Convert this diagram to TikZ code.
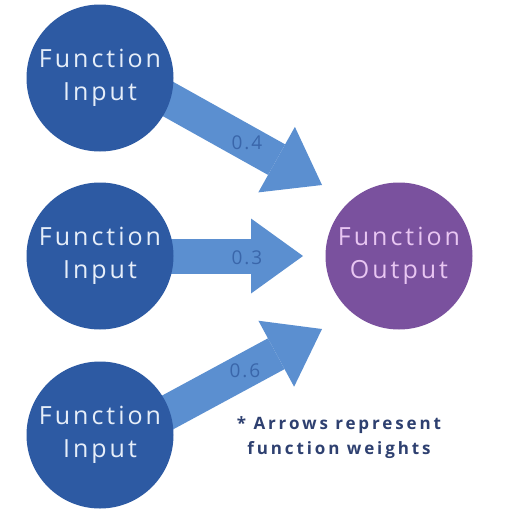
\documentclass[tikz,border=0pt]{standalone}
\usepackage{fontspec}
\setmainfont{Open Sans}
\newfontfamily\circfont[LetterSpace=12]{Open Sans}
\newfontfamily\notefont[LetterSpace=17]{Open Sans}
\newfontfamily\labfont[LetterSpace=10]{Open Sans}
\usetikzlibrary{arrows.meta,calc,backgrounds}
\definecolor{inblue}{HTML}{2D5AA3}
\definecolor{intext}{HTML}{E6EEF9}
\definecolor{arrowblue}{HTML}{5B8FD0}
\definecolor{labelblue}{HTML}{3A66AA}
\definecolor{outpurple}{HTML}{7A519E}
\definecolor{outtext}{HTML}{E8C6F2}
\definecolor{notecol}{HTML}{2E4070}
\begin{document}
\begin{tikzpicture}[x=1pt,y=-1pt,
  incircle/.style={circle,fill=inblue,minimum size=147pt,inner sep=0pt,text=intext,
    font=\circfont\fontsize{25}{33}\selectfont,align=center},
  outcircle/.style={incircle,fill=outpurple,text=outtext},
  weight/.style={line width=35pt,draw=arrowblue,
    -{Triangle[width=75pt,length=52pt,line width=0pt]}},
  wlabel/.style={text=labelblue,font=\labfont\fontsize{19}{19}\selectfont,inner sep=0pt},
  notestyle/.style={text=notecol,font=\notefont\bfseries\fontsize{17}{25}\selectfont,align=center}
]
\useasboundingbox (0,0) rectangle (508,517);
\node[incircle] (in1) at (100,78) {Function\\Input};
\node[incircle] (in2) at (100,256) {Function\\Input};
\node[incircle] (in3) at (100,435) {Function\\Input};
\node[outcircle] (out) at (399,256) {Function\\Output};
\coordinate (t1) at (322,185);
\coordinate (t2) at (303,256);
\coordinate (t3) at (322,329);
\begin{pgfonlayer}{background}
\fill[white] (0,0) rectangle (508,517);
\draw[weight] ($(in1.center)+(0,-17)$) -- (t1) node[wlabel,pos=0.662] {0.4};
\draw[weight] (in2.center) -- (t2) node[wlabel,pos=0.724,yshift=-2pt] {0.3};
\draw[weight] ($(in3.center)+(0,14)$) -- (t3) node[wlabel,pos=0.653] {0.6};
\end{pgfonlayer}
\node[notestyle] (note) at (339,438) {* Arrows represent\\function weights};
\end{tikzpicture}
\end{document}
